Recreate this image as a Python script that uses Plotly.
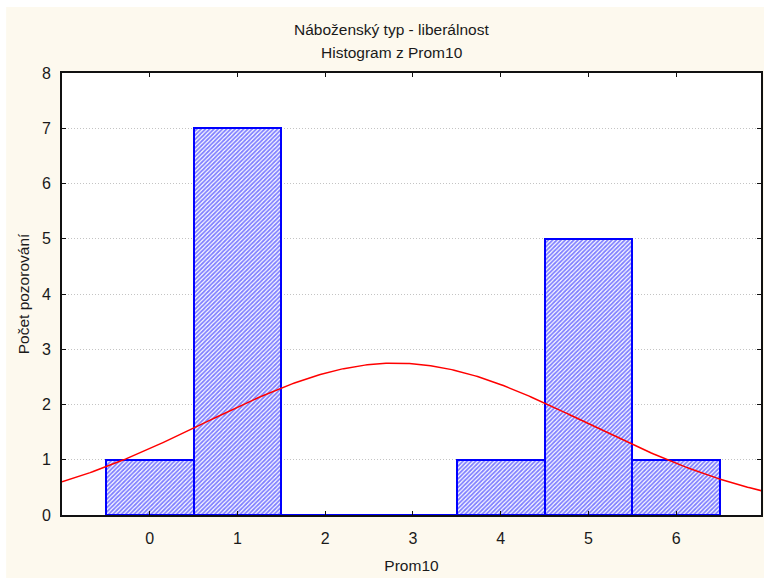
import numpy as np
import plotly.graph_objects as go

categories = [0, 1, 2, 3, 4, 5, 6]
counts = [1, 7, 0, 0, 1, 5, 1]
y_ticks = [0, 1, 2, 3, 4, 5, 6, 7, 8]
title1 = "Náboženský typ - liberálnost"
title2 = "Histogram z Prom10"
x_title = "Prom10"
y_title = "Počet pozorování"

# normal fit computed from the histogram counts
vals = np.repeat(categories, counts)
n = len(vals)
mu = vals.mean()
sd = vals.std(ddof=1)
xc = np.linspace(-1.0, 7.0, 300)
yc = n * 1.0 / (sd * np.sqrt(2 * np.pi)) * np.exp(-(xc - mu) ** 2 / (2 * sd ** 2))

FONT = "Liberation Sans, Arial, sans-serif"
cream = "#FDF9EE"
PH = 442.0  # plot height px
PW = 701.0  # plot width px

fig = go.Figure()
fig.add_trace(go.Bar(
    x=categories, y=counts, width=1.0,
    marker=dict(color="white",
                line=dict(color="#0000FF", width=2),
                pattern=dict(shape="/", fgcolor="#0000FF", bgcolor="white",
                             size=3, solidity=0.6)),
    showlegend=False, hoverinfo="x+y",
))
fig.add_trace(go.Scatter(
    x=xc, y=yc, mode="lines", line=dict(color="#FF0000", width=1.5),
    showlegend=False, hoverinfo="skip",
))

fig.update_layout(
    width=764, height=578,
    margin=dict(l=62, r=1, t=73, b=63),
    paper_bgcolor=cream, plot_bgcolor="white",
    font=dict(family=FONT, size=16, color="#1a1a1a"),
    bargap=0,
    shapes=[
        dict(type="rect", xref="paper", yref="paper", x0=-0.2, x1=-56 / PW,
             y0=-0.3, y1=1.3, fillcolor="white", line=dict(width=0), layer="below"),
        dict(type="rect", xref="paper", yref="paper", x0=-0.2, x1=1.2,
             y0=1 + 66 / PH, y1=1.3, fillcolor="white", line=dict(width=0), layer="below"),
    ],
    annotations=[
        dict(text=title1, xref="paper", yref="paper", x=(392 - 62) / PW,
             y=1 + (73 - 30) / PH, showarrow=False, yanchor="middle",
             font=dict(size=15.5)),
        dict(text=title2, xref="paper", yref="paper", x=(393 - 62) / PW,
             y=1 + (73 - 53) / PH, showarrow=False, yanchor="middle",
             font=dict(size=15.5)),
    ],
)
fig.update_xaxes(
    range=[-1, 6.966], tickmode="array", tickvals=categories,
    ticktext=[str(c) for c in categories],
    showline=True, linecolor="#111111", linewidth=2, mirror="ticks",
    ticks="inside", ticklen=4, tickcolor="#111111", tickwidth=1,
    showgrid=False, zeroline=False, ticklabelstandoff=8,
    title=dict(text=x_title, standoff=14, font=dict(size=15.5)),
)
fig.update_yaxes(
    range=[0, 8], tickmode="array", tickvals=y_ticks,
    showline=True, linecolor="#111111", linewidth=2, mirror="ticks",
    ticks="inside", ticklen=4, tickcolor="#111111", tickwidth=1,
    showgrid=True, gridcolor="#C4C4C4", griddash="1px,2px", gridwidth=1,
    zeroline=False, ticklabelstandoff=6,
    title=dict(text=y_title, standoff=8, font=dict(size=15.5)),
)

fig.write_html("out.html")
